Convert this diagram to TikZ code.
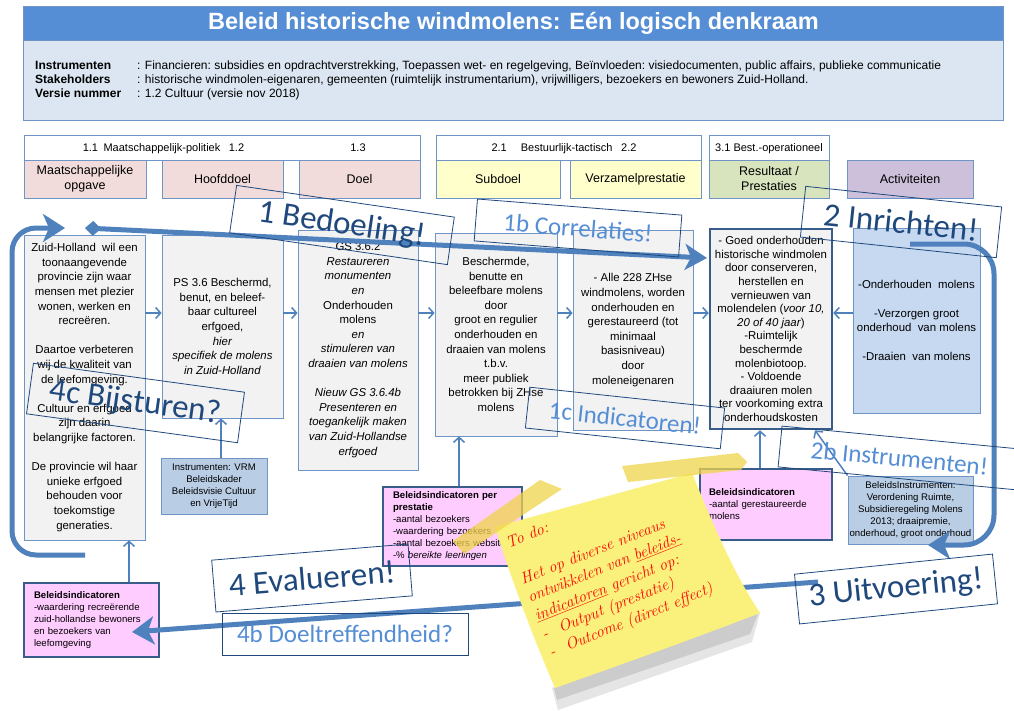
\documentclass[tikz,border=0pt]{standalone}
\usepackage{fontspec}
\setsansfont{Liberation Sans}
\renewcommand{\familydefault}{\sfdefault}
\newfontfamily\calib{Carlito}
\usepackage{xcolor}
\usetikzlibrary{arrows.meta,positioning,calc}

\definecolor{hdrblue}{HTML}{558ED5}
\definecolor{hdrlight}{HTML}{DCE6F2}
\definecolor{lineblue}{HTML}{4F81BD}
\definecolor{boxline}{HTML}{6F94C6}
\definecolor{darkline}{HTML}{385D8A}
\definecolor{darktxt}{HTML}{1F497D}
\definecolor{lighttxt}{HTML}{558ED5}
\definecolor{pinkcat}{HTML}{F2DCDB}
\definecolor{yelcat}{HTML}{FFFFCC}
\definecolor{grncat}{HTML}{D7E4BD}
\definecolor{purcat}{HTML}{CCC0DA}
\definecolor{greybox}{HTML}{F2F2F2}
\definecolor{actblue}{HTML}{C6D9F1}
\definecolor{instblue}{HTML}{B9CDE5}
\definecolor{indpink}{HTML}{FFCCFF}
\definecolor{noteyel}{HTML}{FAF07C}
\definecolor{tapeyel}{HTML}{F0D54A}

\tikzset{
  hdrkey/.style={anchor=base west, inner sep=0, font=\bfseries\fontsize{12}{14}\selectfont},
  hdrval/.style={anchor=base west, inner sep=0, font=\fontsize{12}{14}\selectfont},
  labrow/.style={draw=boxline, fill=white, line width=0.8pt, minimum height=25pt, inner sep=0},
  labtxt/.style={anchor=base, inner sep=0, font=\fontsize{11}{13}\selectfont},
  cat/.style={draw=boxline, line width=0.8pt, minimum height=38pt, inner sep=1pt, align=center, font=\fontsize{12.5}{15}\selectfont},
  cbox/.style={draw=boxline, fill=greybox, line width=0.8pt, align=center, inner sep=2pt, font=\fontsize{11.4}{14.6}\selectfont},
  smallbox/.style={draw=boxline, fill=instblue, line width=1pt, align=center, inner sep=0, font=\fontsize{9.6}{12.2}\selectfont},
  indbox/.style={draw=darkline, fill=indpink, line width=2.5pt, align=left, inner ysep=0, font=\fontsize{9.6}{12}\selectfont},
  arr/.style={draw=lineblue, line width=1.5pt, -{Straight Barb[length=5pt,width=11pt]}},
  bigarr/.style={draw=lineblue, line width=5pt, -{Stealth[length=22pt,width=28pt,inset=6pt]}},
  callout/.style={draw=darktxt, line width=0.8pt, inner sep=0, text=darktxt, font=\calib\fontsize{33}{36}\selectfont},
  callsub/.style={callout, text=lighttxt, font=\calib\fontsize{25}{28}\selectfont},
}

\begin{document}
\begin{tikzpicture}[x=1pt,y=-1pt]
    \useasboundingbox (0,0) rectangle (1014,710);
    \fill[white] (0,0) rectangle (1014,710);
    \clip (0,0) rectangle (1014,710);

    % header
    \node[fill=hdrlight, minimum width=979pt, minimum height=113pt, inner sep=0] (hdr) at (513.5,63.5) {};
    \node[fill=hdrblue, minimum width=979pt, minimum height=33pt, inner sep=0, anchor=north] (band) at (hdr.north) {};
    \draw[boxline, line width=1pt] (hdr.north west) rectangle (hdr.south east);
    \draw[boxline, line width=1pt] (band.south west) -- (band.south east);
    \node[text=white, font=\bfseries\fontsize{23.5}{26}\selectfont] (title) at (band.center) {Beleid historische windmolens: Eén logisch denkraam};
    \node[hdrkey] (k1) at (35,69) {Instrumenten};
    \node[hdrkey] (k2) at (35,83) {Stakeholders};
    \node[hdrkey] (k3) at (35,97) {Versie nummer};
    \node[hdrval] (v1) at (137,69) {: Financieren:\ subsidies en opdrachtverstrekking,\ Toepassen wet- en regelgeving,\ Beïnvloeden:\ visiedocumenten,\ public affairs, publieke communicatie};
    \node[hdrval] (v2) at (137,83) {: historische windmolen-eigenaren,\ gemeenten (ruimtelijk\ instrumentarium),\ vrijwilligers, bezoekers en bewoners Zuid-Holland.};
    \node[hdrval] (v3) at (137,97) {: 1.2 Cultuur\ (versie nov 2018)};

    % column labels
    \node[labrow, minimum width=396pt] (lab1) at (222,147.5) {};
    \node[labrow, minimum width=265pt] (lab2) at (568.5,147.5) {};
    \node[labrow, minimum width=120pt] (lab3) at (769,147.5) {};
    \node[labtxt] (lab1a) at (163.5,151.5) {1.1\enspace Maatschappelijk-politiek\enspace\ 1.2};
    \node[labtxt] (lab1b) at (358,151.5) {1.3};
    \node[labtxt] (lab2a) at (564,151.5) {2.1\quad\ Bestuurlijk-tactisch\enspace\ 2.2};
    \node[labtxt] (lab3a) at (769,151.5) {3.1 Best.-operationeel};

    % categories
    \foreach \n/\cx/\w/\col/\txt in {cat1/85/122/pinkcat/{Maatschappelijke\\opgave},
        cat2/222.5/121/pinkcat/Hoofddoel, cat3/359.5/121/pinkcat/Doel,
        cat4/498/124/yelcat/Subdoel, cat5/635.5/131/yelcat/Verzamelprestatie,
        cat6/769/120/grncat/{Resultaat /\\Prestaties}, cat7/910/126/purcat/Activiteiten} {
        \node[cat, fill=\col, minimum width=\w pt] (\n) at (\cx,179) {\txt};
    }

    % content boxes
    \node[cbox, minimum width=121pt, minimum height=305pt] (A) at (84.5,387.5) {Zuid-Holland\ \ wil een\\toonaangevende\\provincie zijn waar\\mensen met plezier\\wonen, werken en\\recreëren.\\[14.6pt]Daartoe verbeteren\\wij de kwaliteit van\\de leefomgeving.\\[14.6pt]Cultuur en erfgoed\\zijn daarin\\belangrijke factoren.\\[14.6pt]De provincie wil haar\\unieke erfgoed\\behouden voor\\toekomstige\\generaties.};
    \node[cbox, minimum width=121pt, minimum height=183pt] (B) at (222.5,326.5) {PS 3.6 Beschermd,\\benut, en beleef-\\baar cultureel\\erfgoed,\\\textit{hier}\\\textit{specifiek de molens}\\\textit{in Zuid-Holland}};
    \node[cbox, minimum width=120pt, minimum height=240pt] (C) at (358,350) {GS 3.6.2\\\textit{Restaureren}\\\textit{monumenten}\\\textit{en}\\Onderhouden\\molens\\\textit{en}\\\textit{stimuleren van}\\\textit{draaien van molens}\\[14.6pt]\textit{Nieuw GS 3.6.4b}\\\textit{Presenteren en}\\\textit{toegankelijk maken}\\\textit{van Zuid-Hollandse}\\\textit{erfgoed}};
    \node[cbox, minimum width=122pt, minimum height=203pt] (D) at (496,334.5) {Beschermde,\\benutte en\\beleefbare molens\\door\\groot en regulier\\onderhouden en\\draaien van molens\\t.b.v.\\meer publiek\\betrokken bij ZHse\\molens};
    \node[cbox, minimum width=120pt, minimum height=200pt] (E) at (633,330) {- Alle 228 ZHse\\windmolens, worden\\onderhouden en\\gerestaureerd (tot\\minimaal\\basisniveau)\\door\\moleneigenaren};
    \node[cbox, draw=darkline, line width=2.5pt, minimum width=122pt, minimum height=200pt, font=\fontsize{11.4}{13.6}\selectfont] (F) at (771,329) {- Goed onderhouden\\historische windmolen\\door conserveren,\\herstellen en\\vernieuwen van\\molendelen (\textit{voor 10,}\\\textit{20 of 40 jaar})\\-Ruimtelijk\\beschermde\\molenbiotoop.\\- Voldoende\\draaiuren molen\\ter voorkoming extra\\onderhoudskosten};
    \node[cbox, fill=actblue, minimum width=127pt, minimum height=185pt] (G) at (916.5,320.5) {-Onderhouden\ \ molens\\[14.5pt]-Verzorgen groot\\onderhoud\ \ van molens\\[14.5pt]-Draaien\ \ van molens};

    % indicator and instrument boxes
    \node[smallbox, minimum width=106pt, minimum height=56pt] (vrm) at (214,486) {Instrumenten: VRM\\Beleidskader\\Beleidsvisie Cultuur\\en VrijeTijd};
    \node[indbox, text width=115pt, inner xsep=10pt, minimum height=74pt] (indA) at (91.5,620) {\textbf{Beleidsindicatoren}\\-waardering recreërende\\zuid-hollandse bewoners\\en bezoekers van\\leefomgeving};
    \node[indbox, text width=119pt, inner xsep=10pt, minimum height=79pt] (indD) at (452.5,526.5) {\textbf{Beleidsindicatoren per}\\\textbf{prestatie}\\-aantal bezoekers\\-waardering bezoekers\\-aantal bezoekers website\\-\% \textit{bereikte leerlingen}};
    \node[indbox, text width=114pt, inner xsep=9pt, minimum height=71pt] (indF) at (766,504.5) {\textbf{Beleidsindicatoren}\\-aantal gerestaureerde\\molens};
    \node[smallbox, minimum width=125pt, minimum height=68pt] (instr) at (910.5,510) {BeleidsInstrumenten:\\Verordening Ruimte,\\Subsidieregeling Molens\\2013; draaipremie,\\onderhoud, groot onderhoud};

    % small connectors
    \coordinate (row) at (0,313);
    \foreach \a/\b in {A/B,B/C,C/D,D/E,E/F} {
        \draw[arr] (\a.east |- row) -- (\b.west |- row);
    }
    \draw[arr] (G.west |- row) -- (F.east |- row);
    \coordinate (xa) at (129,0);
    \coordinate (xb) at (221,0);
    \coordinate (xd) at (459,0);
    \coordinate (xf) at (760,0);
    \coordinate (xi) at (815,0);
    \draw[arr] (indA.north -| xa) -- (A.south -| xa);
    \draw[arr] (vrm.north -| xb) -- (B.south -| xb);
    \draw[arr] (indD.north -| xd) -- (D.south -| xd);
    \draw[arr] (indF.north -| xf) -- (F.south -| xf);
    \draw[arr] (instr.north west) -- (F.south -| xi);

    % cycle arrows
    \coordinate (bStart) at (85,228);
    \coordinate (bTip) at (707,258);
    \coordinate (lStart) at (85,555);
    \coordinate (lTip) at (65,228);
    \coordinate (iStart) at (910,244);
    \coordinate (iTip) at (928,545);
    \coordinate (eStart) at (818,582);
    \coordinate (eTip) at (132,632);
    \draw[bigarr, {Diamond[length=16pt,width=15pt]}-{Stealth[length=22pt,width=26pt,inset=6pt]}] (bStart) -- (bTip);
    \draw[bigarr, rounded corners=24pt] (lStart) -- (12,555) -- (12,228) -- (lTip);
    \draw[bigarr, rounded corners=30pt] (iStart) -- (994,244) -- (994,545) -- (iTip);
    \draw[bigarr] (eStart) -- (eTip);

    % callouts
    \node[callout, rotate=-8.3, minimum width=220pt, minimum height=48pt] (bedoel) at (342,225) {1 Bedoeling!};
    \node[callsub, rotate=-4.5, minimum width=205pt, minimum height=42pt] (correl) at (578,228) {1b Correlaties!};
    \node[callsub, rotate=-6.1, minimum width=196pt, minimum height=41pt] (indic) at (625,418) {1c Indicatoren!};
    \node[callout, rotate=-6, minimum width=197pt, minimum height=51pt] (inricht) at (901,222) {2 Inrichten!};
    \node[callsub, rotate=-5.5, minimum width=240pt, minimum height=41pt] (instrum) at (899.5,458) {2b Instrumenten!};
    \node[callout, rotate=5.8, minimum width=199pt, minimum height=50pt] (uitvoer) at (896,589) {3 Uitvoering!};
    \node[callout, rotate=4.7, minimum width=197pt, minimum height=52pt] (evalu) at (312,578) {4 Evalueren!};
    \node[callsub, minimum width=246pt, minimum height=42pt] (doeltr) at (345,634) {4b Doeltreffendheid?};
    \node[callout, rotate=-7.8, minimum width=213pt, minimum height=51pt] (bijst) at (135.5,403) {4c Bijsturen?};

    % sticky note
    \fill[black!10] (552,688) -- (760,613) -- (752,642) -- (558,710) -- cycle;
    \fill[black!20] (554,688) -- (758,614) -- (750,634) -- (557,700) -- cycle;
    \fill[noteyel] (495,527) -- (692,473) .. controls (715,530) and (735,575) .. (760,613)
        .. controls (690,640) and (620,665) .. (555,688) .. controls (530,630) and (510,575) .. (495,527) -- cycle;
    \fill[tapeyel, opacity=0.75] (453,541) -- (540,480) -- (562,489) -- (464,554) -- cycle;
    \fill[tapeyel, opacity=0.75] (622,466) -- (738,453) -- (747,462) -- (741,470) -- (628,482) -- cycle;
    \node[rotate=21.7, anchor=north west, inner sep=0, align=left, text=red, font=\rmfamily\itshape\fontsize{16}{19.5}\selectfont] (todo) at (504,538) {To do:\\[19.5pt]Het op diverse niveaus\\ontwikkelen van \underline{beleids-}\\\underline{indicatoren} gericht op:\\-\hspace{12pt}Output (prestatie)\\-\hspace{12pt}Outcome (direct effect)};
\end{tikzpicture}
\end{document}
